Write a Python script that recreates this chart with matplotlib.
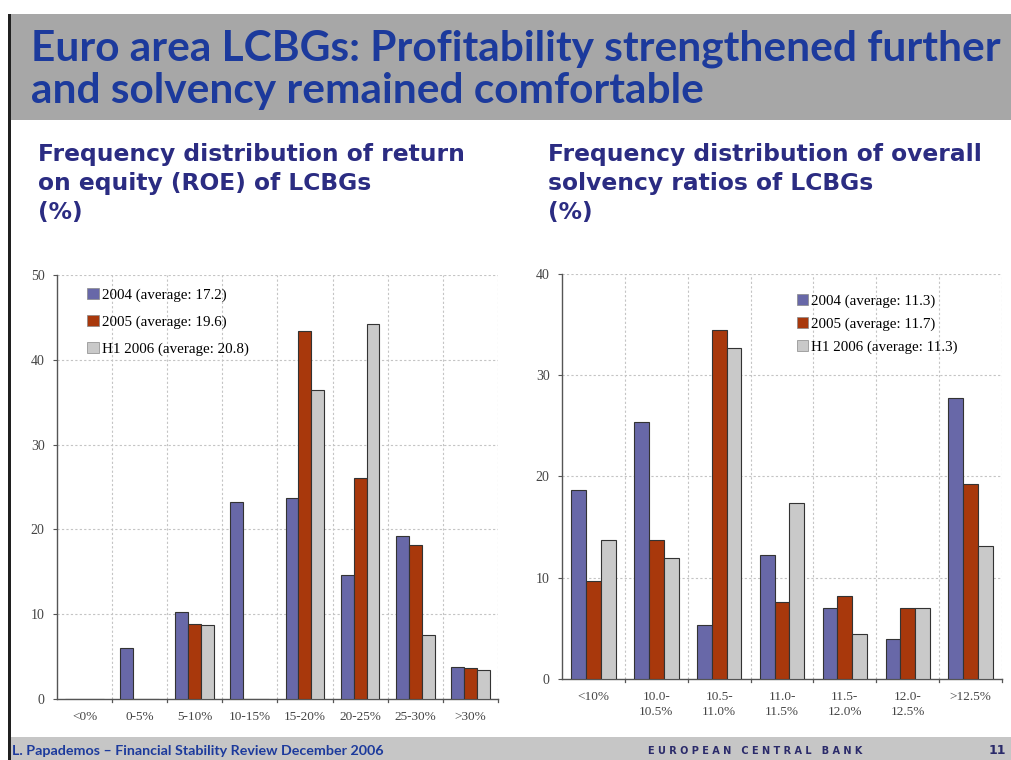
import matplotlib.pyplot as plt
import matplotlib.patches as mpatches
import numpy as np

# ROE distribution (left panel)
roe_cats = ['<0%', '0-5%', '5-10%', '10-15%', '15-20%', '20-25%', '25-30%', '>30%']
roe_2004 = [0.0, 6.0, 10.3, 23.2, 23.7, 14.6, 19.2, 3.8]
roe_2005 = [0.0, 0.0, 8.8, 0.0, 43.4, 26.0, 18.2, 3.6]
roe_2006 = [0.0, 0.0, 8.7, 0.0, 36.4, 44.2, 7.6, 3.4]
roe_labels = ['2004 (average: 17.2)', '2005 (average: 19.6)', 'H1 2006 (average: 20.8)']

# solvency ratio distribution (right panel)
solv_cats = ['<10%', '10.0-\n10.5%', '10.5-\n11.0%', '11.0-\n11.5%', '11.5-\n12.0%', '12.0-\n12.5%', '>12.5%']
solv_2004 = [18.7, 25.4, 5.3, 12.2, 7.0, 3.9, 27.7]
solv_2005 = [9.7, 13.7, 34.5, 7.6, 8.2, 7.0, 19.3]
solv_2006 = [13.7, 11.9, 32.7, 17.4, 4.4, 7.0, 13.1]
solv_labels = ['2004 (average: 11.3)', '2005 (average: 11.7)', 'H1 2006 (average: 11.3)']

colors = ['#6868a8', '#a8380c', '#c9c9c9']
title_blue = '#1c3a9c'
sub_blue = '#2b2c82'

fig = plt.figure(figsize=(10.11, 7.6), dpi=100)

# slide decoration
fig.patches.append(mpatches.Rectangle((0.009, 0.842), 0.991, 0.140, transform=fig.transFigure,
                                      facecolor='#a7a7a7', edgecolor='none', zorder=0))
fig.patches.append(mpatches.Rectangle((0.009, 0.0), 0.991, 0.030, transform=fig.transFigure,
                                      facecolor='#c6c6c6', edgecolor='none', zorder=0))
fig.patches.append(mpatches.Rectangle((0.008, 0.0), 0.003, 0.982, transform=fig.transFigure,
                                      facecolor='#202020', edgecolor='none', zorder=1))

fig.text(0.031, 0.921, 'Euro area LCBGs: Profitability strengthened further', fontsize=30.5,
         fontweight='bold', family='Lato', color=title_blue, va='baseline')
fig.text(0.031, 0.865, 'and solvency remained comfortable', fontsize=30.5,
         fontweight='bold', family='Lato', color=title_blue, va='baseline')

sub_left = 'Frequency distribution of return\non equity (ROE) of LCBGs\n(%)'
sub_right = 'Frequency distribution of overall\nsolvency ratios of LCBGs\n(%)'
fig.text(0.038, 0.812, sub_left, fontsize=16.8, fontweight='bold', family='DejaVu Sans',
         color=sub_blue, va='top', linespacing=1.33)
fig.text(0.542, 0.812, sub_right, fontsize=16.8, fontweight='bold', family='DejaVu Sans',
         color=sub_blue, va='top', linespacing=1.33)

fig.text(0.012, 0.012, 'L. Papademos \u2013 Financial Stability Review December 2006', fontsize=10.3,
         fontweight='bold', family='Lato', color=title_blue, va='center')
fig.text(0.641, 0.012, 'E U R O P E A N   C E N T R A L   B A N K', fontsize=7,
         fontweight='bold', family='DejaVu Sans', color='#2a2a6a', va='center')
fig.text(0.978, 0.012, '11', fontsize=9, fontweight='bold', family='DejaVu Sans',
         color='#2a2a6a', va='center')


def panel(ax, cats, series, labels, ymax, legend_anchor, spacing):
    n = len(cats)
    x = np.arange(n)
    w = 0.235
    for k, vals in enumerate(series):
        ax.bar(x + (k - 1) * w, vals, width=w, color=colors[k], edgecolor='#333333',
               linewidth=0.8, label=labels[k], zorder=3)
    ax.set_xlim(-0.5, n - 0.5)
    ax.set_ylim(0, ymax)
    ax.set_yticks(np.arange(0, ymax + 1, 10))
    ax.set_xticks(x)
    ax.set_xticklabels(cats, family='Liberation Serif', fontsize=9.5, color='#444444',
                       linespacing=1.3)
    ax.tick_params(axis='x', length=0, pad=9)
    ax.tick_params(axis='y', length=3, width=0.8, color='#555555', labelsize=10,
                   labelcolor='#444444', pad=6)
    for t in ax.get_yticklabels():
        t.set_family('Liberation Serif')
    # category boundaries
    for b in np.arange(-0.5, n, 1.0)[1:]:
        ax.axvline(b, color='#c4c4c4', linestyle=(0, (2, 2)), linewidth=0.8, zorder=1)
        ax.plot([b, b], [0, -ymax * 0.008], color='#555555', linewidth=0.9,
                clip_on=False, zorder=4)
    for yv in np.arange(10, ymax + 1, 10):
        ax.axhline(yv, color='#c4c4c4', linestyle=(0, (2, 2)), linewidth=0.8, zorder=1)
    for s in ['top', 'right']:
        ax.spines[s].set_visible(False)
    for s in ['left', 'bottom']:
        ax.spines[s].set_color('#555555')
        ax.spines[s].set_linewidth(1.0)
    leg = ax.legend(loc='upper left', bbox_to_anchor=legend_anchor, frameon=False,
                    prop={'family': 'Liberation Serif', 'size': 10.8},
                    handlelength=0.75, handleheight=0.75, handletextpad=0.2,
                    labelspacing=spacing, borderaxespad=0)
    for h in leg.legend_handles:
        h.set_edgecolor('#888888')
        h.set_linewidth(0.5)


ax1 = fig.add_axes([0.0564, 0.0803, 0.436, 0.558])
panel(ax1, roe_cats, [roe_2004, roe_2005, roe_2006], roe_labels, 50, (0.055, 0.983), 0.88)

ax2 = fig.add_axes([0.556, 0.1066, 0.435, 0.533])
panel(ax2, solv_cats, [solv_2004, solv_2005, solv_2006], solv_labels, 40, (0.52, 0.965), 0.6)

fig.savefig('out.png', dpi=100)
